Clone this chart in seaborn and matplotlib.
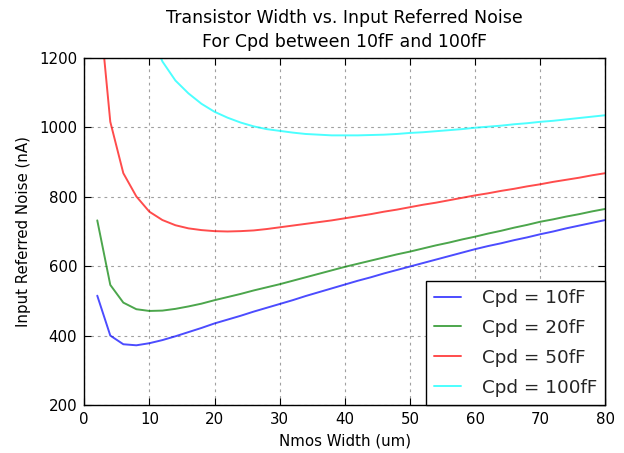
import numpy as np
import pandas as pd
import matplotlib
matplotlib.use("Agg")
import matplotlib.pyplot as plt
import seaborn as sns

# Nmos width sweep (um)
width_um = list(range(2, 82, 2))

# Input referred noise (nA) for each photodiode capacitance
noise_10ff = [515, 400, 375, 372, 378, 387, 398, 410, 422, 435,
              446, 457, 469, 480, 491, 502, 514, 525, 536, 547,
              558, 568, 579, 589, 599, 609, 619, 629, 639, 649,
              658, 666, 675, 683, 692, 700, 709, 717, 725, 733]
noise_20ff = [732, 546, 495, 476, 471, 472, 477, 484, 492, 502,
              511, 520, 530, 539, 548, 558, 568, 578, 588, 598,
              607, 616, 625, 634, 642, 651, 660, 668, 677, 685,
              694, 702, 711, 719, 728, 735, 743, 750, 758, 765]
noise_50ff = [1410, 1016, 868, 801, 757, 733, 718, 709, 704, 701,
              700, 701, 703, 707, 712, 717, 722, 727, 732, 738,
              744, 750, 757, 763, 770, 777, 783, 790, 797, 804,
              810, 817, 823, 830, 836, 843, 849, 855, 862, 868]
noise_100ff = [3380, 2060, 1620, 1405, 1280, 1190, 1135, 1098, 1068, 1045,
               1028, 1014, 1003, 995, 990, 985, 981, 979, 977, 977,
               977, 978, 979, 981, 984, 986, 989, 992, 995, 999,
               1002, 1005, 1009, 1012, 1016, 1019, 1023, 1027, 1031, 1035]

series_labels = ["Cpd = 10fF", "Cpd = 20fF", "Cpd = 50fF", "Cpd = 100fF"]
series_colors = ["#0000ff", "#008000", "#ff0000", "#00ffff"]

x_ticks = [0, 10, 20, 30, 40, 50, 60, 70, 80]
y_ticks = [200, 400, 600, 800, 1000, 1200]

frames = []
for label, vals in zip(series_labels,
                       [noise_10ff, noise_20ff, noise_50ff, noise_100ff]):
    frames.append(pd.DataFrame({"width": width_um, "noise": vals, "cpd": label}))
df = pd.concat(frames, ignore_index=True)

sns.set_theme(style="white")
plt.rcParams["font.family"] = ["DejaVu Sans"]
plt.rcParams["xtick.direction"] = "in"
plt.rcParams["ytick.direction"] = "in"

fig = plt.figure(figsize=(6.24, 4.53), dpi=100)
ax = fig.add_axes([0.135, 0.106, 0.835, 0.766])

sns.lineplot(data=df, x="width", y="noise", hue="cpd",
             hue_order=series_labels, palette=series_colors,
             linewidth=1.4, alpha=0.7, ax=ax, sort=False)

ax.set_xlim(0, 80)
ax.set_ylim(200, 1200)
ax.set_xticks(x_ticks)
ax.set_yticks(y_ticks)
ax.tick_params(axis="both", labelsize=10.8, colors="black", length=5,
               width=0.8, top=True, right=True, bottom=True, left=True,
               pad=5)
ax.grid(True, linestyle=(0, (2.5, 3.5)), color="#a0a0a0", linewidth=0.8)
for sp in ax.spines.values():
    sp.set_color("black")
    sp.set_linewidth(1.0)

ax.set_xlabel("Nmos Width (um)", fontsize=10.8, color="black", labelpad=5)
ax.set_ylabel("Input Referred Noise (nA)", fontsize=10.8, color="black",
              labelpad=6)
ax.set_title("Transistor Width vs. Input Referred Noise\nFor Cpd between 10fF and 100fF",
             fontsize=12.5, color="black", pad=8, linespacing=1.4)

leg = ax.legend(loc="lower right", fontsize=13.2, borderaxespad=0,
                fancybox=False, framealpha=1, edgecolor="black",
                handlelength=1.5, handletextpad=1.1, labelspacing=0.65,
                borderpad=0.45)
leg.get_frame().set_linewidth(1.0)
for h in leg.get_lines():
    h.set_linewidth(1.4)

fig.savefig("out.png", dpi=100, facecolor="white")
